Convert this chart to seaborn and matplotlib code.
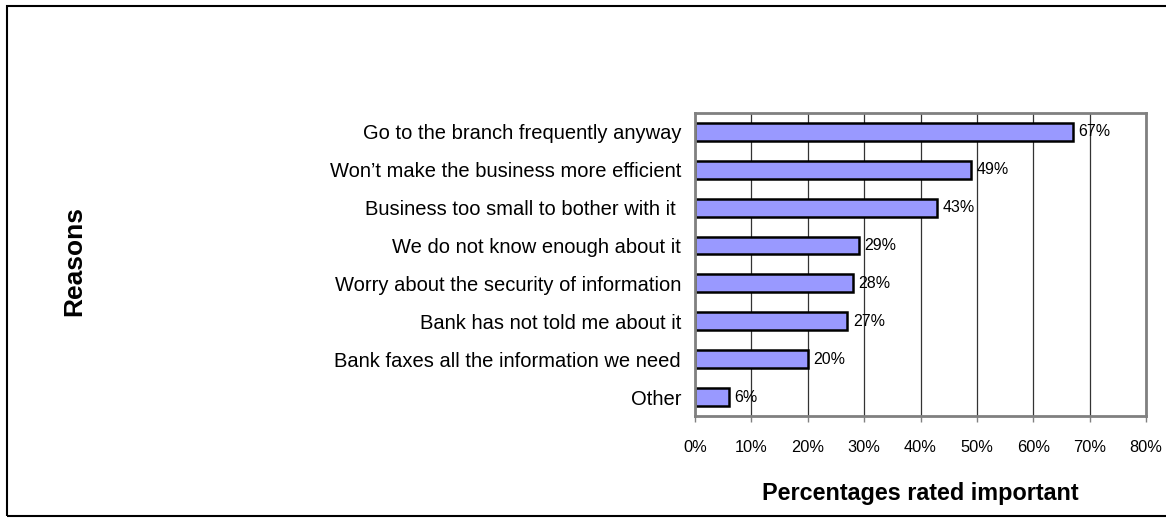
import matplotlib
matplotlib.use("Agg")
import matplotlib.pyplot as plt
import matplotlib.patches as mpatches
from matplotlib.ticker import PercentFormatter
import seaborn as sns
import pandas as pd

reasons = [
    "Go to the branch frequently anyway",
    "Won\u2019t make the business more efficient",
    "Business too small to bother with it ",
    "We do not know enough about it",
    "Worry about the security of information",
    "Bank has not told me about it",
    "Bank faxes all the information we need",
    "Other",
]
percent_important = [67, 49, 43, 29, 28, 27, 20, 6]
x_ticks = [0, 10, 20, 30, 40, 50, 60, 70, 80]

df = pd.DataFrame({"reason": reasons, "pct": percent_important})

sns.set_theme(style="white")
plt.rcParams["font.family"] = ["Liberation Sans", "DejaVu Sans"]
plt.rcParams["text.color"] = "black"
plt.rcParams["axes.labelcolor"] = "black"

fig = plt.figure(figsize=(11.66, 5.18), dpi=100)
ax = fig.add_axes([0.596, 0.197, 0.387, 0.585])

sns.barplot(data=df, x="pct", y="reason", orient="h", ax=ax,
            color="#9999FF", edgecolor="black", linewidth=1.8,
            width=0.47, saturation=1)

ax.set_xlim(0, 80)
ax.set_xticks(x_ticks)
ax.xaxis.set_major_formatter(PercentFormatter(decimals=0))
ax.set_axisbelow(True)
ax.grid(axis="x", color="#333333", linewidth=0.9)
ax.grid(axis="y", visible=False)

for side in ["left", "right", "top", "bottom"]:
    ax.spines[side].set_visible(True)
    ax.spines[side].set_color("#808080")
    ax.spines[side].set_linewidth(2)

ax.tick_params(axis="x", bottom=True, length=4, width=1, color="#808080",
               pad=13, labelsize=11.8, labelcolor="black")
ax.tick_params(axis="y", left=False, length=0, pad=10, labelsize=14.5,
               labelcolor="black")

ax.bar_label(ax.containers[0], labels=[f"{v}%" for v in percent_important],
             padding=4, fontsize=11.5)

ax.set_xlabel("Percentages rated important", fontsize=16.8, fontweight="bold",
              labelpad=20)
ax.set_ylabel("Reasons", fontsize=19, fontweight="bold")
ax.yaxis.set_label_coords(-1.35, 0.51)

# outer frame around the chart area
fig.add_artist(mpatches.Rectangle((7 / 1166, 2 / 518), 1.1, 510 / 518,
                                  transform=fig.transFigure, fill=False,
                                  edgecolor="black", linewidth=1.5,
                                  clip_on=False))

fig.savefig("out.png", dpi=100, facecolor="white")
